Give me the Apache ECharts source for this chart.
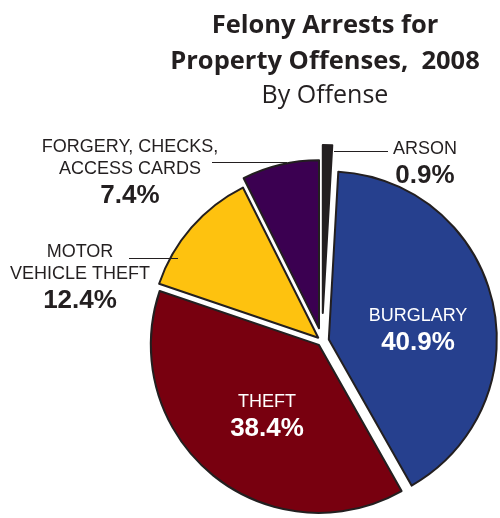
<!DOCTYPE html>
<html><head><meta charset="utf-8">
<script src="https://cdn.jsdelivr.net/npm/echarts@6/dist/echarts.min.js"></script>
<style>html,body{margin:0;padding:0;background:#fff}#c{width:500px;height:518px}</style>
</head><body><div id="c"></div><script>
// ---- data ----
const categories = ['ARSON', 'BURGLARY', 'THEFT', 'MOTOR\nVEHICLE THEFT', 'FORGERY, CHECKS,\nACCESS CARDS'];
const shares = [0.9, 40.9, 38.4, 12.4, 7.4];
const titleLines = ['Felony Arrests for', 'Property Offenses,  2008'];
const subtitle = 'By Offense';

// ---- styling ----
const colors = ['#231f20', '#26408e', '#78000f', '#fec20f', '#3b0051'];
const explode = [28, 7, 5, 5, 13];
const labelPos = [
  {x: 425, y: 138, inside: false, line: [[334, 151.5], [388, 151.5]]},
  {x: 418, y: 305, inside: true},
  {x: 267, y: 391, inside: true},
  {x: 80, y: 241, inside: false, line: [[178, 258.5], [129, 258.5]]},
  {x: 130, y: 136, inside: false, line: [[287, 162.5], [212, 162.5]]}
];
const ink = '#231f20';
const labelFont = 'Liberation Sans, Arial, sans-serif';

function richFor(color) {
  return {
    n: {fontFamily: labelFont, fontSize: 18, lineHeight: 22, fill: color, color: color, align: 'center'},
    v: {fontFamily: labelFont, fontSize: 26, fontWeight: 'bold', lineHeight: 32, fill: color, color: color, align: 'center'}
  };
}
function labelText(name, value) {
  return name.split('\n').map(s => '{n|' + s + '}').join('\n') + '\n{v|' + value + '%}';
}

const series = categories.map((cat, k) => ({
  type: 'pie',
  radius: 168,
  center: [322, 341],
  startAngle: 90,
  clockwise: true,
  selectedMode: 'single',
  selectedOffset: explode[k],
  animation: false,
  silent: true,
  label: {show: false},
  labelLine: {show: false},
  data: categories.map((name, i) => {
    const vis = i === k;
    const st = vis ? {color: colors[i], borderColor: ink, borderWidth: 2} : {opacity: 0, borderWidth: 0};
    return {name: name, value: shares[i], selected: vis, itemStyle: st, select: {itemStyle: st}};
  })
}));

const graphics = [];
categories.forEach((name, i) => {
  const p = labelPos[i];
  const col = p.inside ? '#ffffff' : ink;
  if (p.line) {
    graphics.push({type: 'polyline', z: 10, shape: {points: p.line}, style: {stroke: ink, lineWidth: 1, fill: null}, silent: true});
  }
  graphics.push({
    type: 'text', z: 10, silent: true,
    x: p.x, y: p.y,
    style: {text: labelText(name, shares[i]), rich: richFor(col), fill: col, align: 'center', verticalAlign: 'top'}
  });
});

const chart = echarts.init(document.getElementById('c'), null, {renderer: 'canvas'});
chart.setOption({
  backgroundColor: '#ffffff',
  animation: false,
  title: [
    {text: titleLines.join('\n'), left: 325, top: 8, textAlign: 'center', padding: 0,
     textStyle: {fontFamily: 'Open Sans', fontWeight: 'bold', fontSize: 25.5, lineHeight: 36, color: ink}},
    {text: subtitle, left: 325, top: 81, textAlign: 'center', padding: 0,
     textStyle: {fontFamily: 'Open Sans', fontWeight: 'normal', fontSize: 25, lineHeight: 30, color: ink}}
  ],
  series: series,
  graphic: graphics
});
</script></body></html>
